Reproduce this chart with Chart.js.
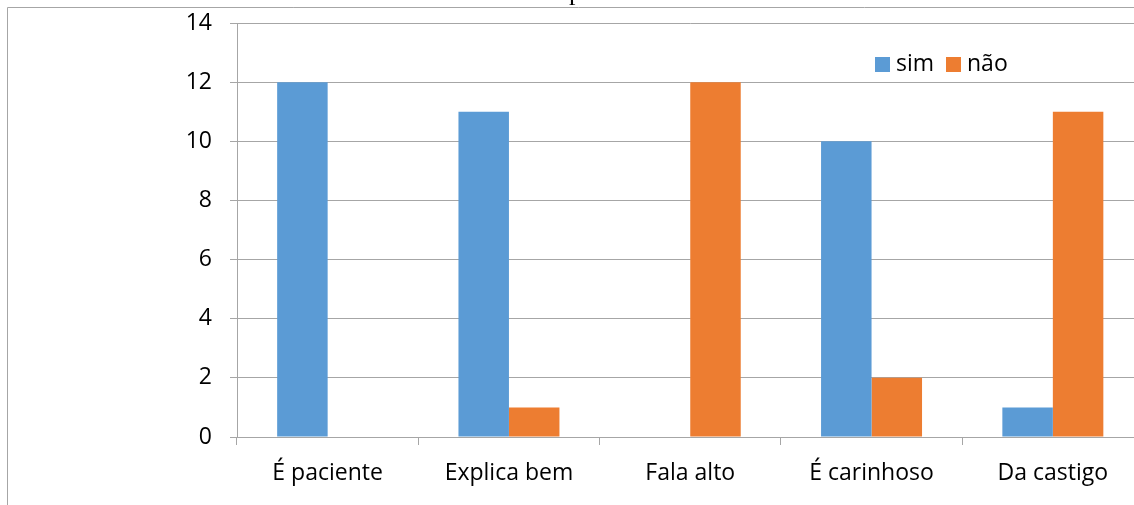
<!DOCTYPE html>
<html>
<head>
<meta charset="utf-8">
<script src="https://cdn.jsdelivr.net/npm/chart.js@4/dist/chart.umd.min.js"></script>
<style>
  html, body { margin: 0; padding: 0; background: #fff; overflow: hidden; }
  #wrap { position: relative; width: 1150px; height: 505px; }
</style>
</head>
<body>
<div id="wrap"><canvas id="c" width="1150" height="505"></canvas></div>
<script>
const categories = ['É paciente', 'Explica bem', 'Fala alto', 'É carinhoso', 'Da castigo'];
const simValues = [12, 11, 0, 10, 1];
const naoValues = [0, 1, 12, 2, 11];
const seriesNames = ['sim', 'não'];
const yTicks = [0, 2, 4, 6, 8, 10, 12, 14];

const BLUE = '#5B9BD5';
const ORANGE = '#ED7D31';
const FONT = "'Open Sans', sans-serif";

// Outer frame, clipped title descender and the in-plot legend
const decorations = {
  id: 'decorations',
  beforeDraw(chart) {
    const ctx = chart.ctx;
    ctx.save();
    ctx.strokeStyle = '#a6a6a6';
    ctx.lineWidth = 1;
    ctx.beginPath();
    ctx.moveTo(7.5, 505);
    ctx.lineTo(7.5, 7.5);
    ctx.lineTo(chart.width, 7.5);
    ctx.stroke();
    ctx.fillStyle = '#000';
    ctx.font = "26px 'Liberation Serif', serif";
    ctx.textBaseline = 'alphabetic';
    ctx.textAlign = 'left';
    ctx.fillText('p', 569, 0);
    ctx.restore();
  },
  afterDraw(chart) {
    const ctx = chart.ctx;
    ctx.save();
    ctx.font = '23px ' + FONT;
    ctx.textBaseline = 'middle';
    ctx.textAlign = 'left';
    const items = [
      { color: BLUE, text: seriesNames[0], x: 875 },
      { color: ORANGE, text: seriesNames[1], x: 946 }
    ];
    items.forEach(it => {
      ctx.fillStyle = it.color;
      ctx.fillRect(it.x, 57, 15, 15);
      ctx.fillStyle = '#000';
      ctx.fillText(it.text, it.x + 21, 64);
    });
    ctx.restore();
  }
};

new Chart(document.getElementById('c'), {
  type: 'bar',
  data: {
    labels: categories,
    datasets: [
      { label: seriesNames[0], data: simValues, backgroundColor: BLUE, borderWidth: 0 },
      { label: seriesNames[1], data: naoValues, backgroundColor: ORANGE, borderWidth: 0 }
    ]
  },
  options: {
    responsive: false,
    animation: false,
    devicePixelRatio: 1,
    layout: { padding: { left: 0, right: 6.5, top: 23, bottom: 0 } },
    datasets: { bar: { categoryPercentage: 0.557, barPercentage: 1.0 } },
    plugins: {
      legend: { display: false },
      title: { display: false },
      tooltip: { enabled: false }
    },
    scales: {
      x: {
        offset: true,
        grid: {
          offset: true,
          drawOnChartArea: false,
          drawTicks: true,
          tickLength: 8,
          color: '#a6a6a6'
        },
        border: { display: true, color: '#a6a6a6', width: 1 },
        ticks: {
          color: '#000',
          font: { family: FONT, size: 23 },
          padding: 15,
          maxRotation: 0,
          autoSkip: false
        },
        afterFit(scale) {
          scale.height = 68;
          scale.paddingLeft = 0;
          scale.paddingRight = 0;
        }
      },
      y: {
        min: 0,
        max: 14,
        afterBuildTicks(scale) { scale.ticks = yTicks.map(v => ({ value: v })); },
        grid: {
          color: '#a6a6a6',
          drawTicks: true,
          tickLength: 7
        },
        border: { display: true, color: '#a6a6a6', width: 1 },
        ticks: {
          color: '#000',
          font: { family: FONT, size: 23 },
          padding: 18
        },
        afterFit(scale) {
          scale.width = 237;
          scale.paddingTop = 0;
          scale.paddingBottom = 0;
        }
      }
    }
  },
  plugins: [decorations]
});
</script>
</body>
</html>
